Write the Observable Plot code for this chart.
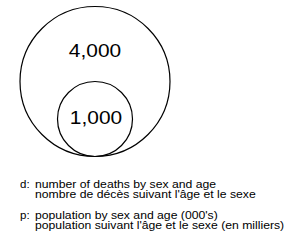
<!DOCTYPE html>
<html>
<head>
<meta charset="utf-8">
<script src="https://cdn.jsdelivr.net/npm/d3@7"></script>
<script src="https://cdn.jsdelivr.net/npm/@observablehq/plot@0.6"></script>
<style>
  html, body { margin: 0; padding: 0; background: #fff; }
  body { width: 286px; height: 240px; overflow: hidden; font-family: "Liberation Sans", Arial, Helvetica, sans-serif; }
  #legend { position: relative; color: #000; font-size: 10px; }
  .row { display: flex; line-height: 9.5px; white-space: nowrap; }
  .key { width: 15px; padding-left: 20px; flex: none; display: inline-block; transform: scaleX(1.15); transform-origin: 20px 50%; }
  .txt { display: inline-block; transform: scaleX(1.22); transform-origin: 0 50%; }
  .group { margin-bottom: 12px; }
</style>
</head>
<body>
<div id="chart"></div>
<div id="legend"></div>
<script>
const labels = ["4,000", "1,000"];
const values = [4000, 1000];
const legendKeys = ["d:", "p:"];
const legendEnglish = ["number of deaths by sex and age", "population by sex and age (000's)"];
const legendFrench = ["nombre de décès suivant l'âge et le sexe", "population suivant l'âge et le sexe (en milliers)"];

const data = labels.map((label, i) => ({label, value: values[i]}));
const maxV = d3.max(values);
const rootMax = Math.sqrt(maxV);

const chart = Plot.plot({
  width: 286,
  height: 170,
  marginLeft: 0,
  marginRight: 97,
  marginTop: 6,
  marginBottom: 14,
  x: {axis: null},
  y: {axis: null, domain: [0, 2 * rootMax]},
  r: {type: "sqrt", domain: [0, maxV], range: [0, 75]},
  marks: [
    Plot.dot(data, {y: d => Math.sqrt(d.value), r: "value", stroke: "#000", strokeWidth: 1.2, fill: "none"}),
    Plot.text(data.filter(d => d.value === maxV), {y: d => Math.sqrt(d.value), text: "label", dy: -31, fontSize: 19, fill: "#000", fontFamily: "Liberation Sans, Arial, sans-serif"}),
    Plot.text(data.filter(d => d.value !== maxV), {y: d => Math.sqrt(d.value), text: "label", dx: 1, dy: -1, fontSize: 19, fill: "#000", fontFamily: "Liberation Sans, Arial, sans-serif"})
  ]
});
// widen the number labels slightly, like the reference lettering
d3.select(chart).selectAll("text").each(function() {
  const t = this.getAttribute("transform");
  if (t && t.includes("translate")) {
    this.setAttribute("transform", t + " scale(1.1,1)");
  } else {
    const x = +this.getAttribute("x") || 0;
    const y = +this.getAttribute("y") || 0;
    this.removeAttribute("x"); this.removeAttribute("y");
    this.setAttribute("transform", `translate(${x},${y}) scale(1.1,1)`);
  }
});
document.getElementById("chart").appendChild(chart);

const legend = document.getElementById("legend");
legend.style.marginTop = "10px";
legendKeys.forEach((k, i) => {
  const g = document.createElement("div");
  g.className = "group";
  [[k, legendEnglish[i]], ["", legendFrench[i]]].forEach(([key, text]) => {
    const r = document.createElement("div");
    r.className = "row";
    const ks = document.createElement("span");
    ks.className = "key";
    ks.textContent = key;
    const ts = document.createElement("span");
    ts.className = "txt";
    ts.textContent = text;
    r.appendChild(ks); r.appendChild(ts);
    g.appendChild(r);
  });
  legend.appendChild(g);
});
</script>
</body>
</html>
